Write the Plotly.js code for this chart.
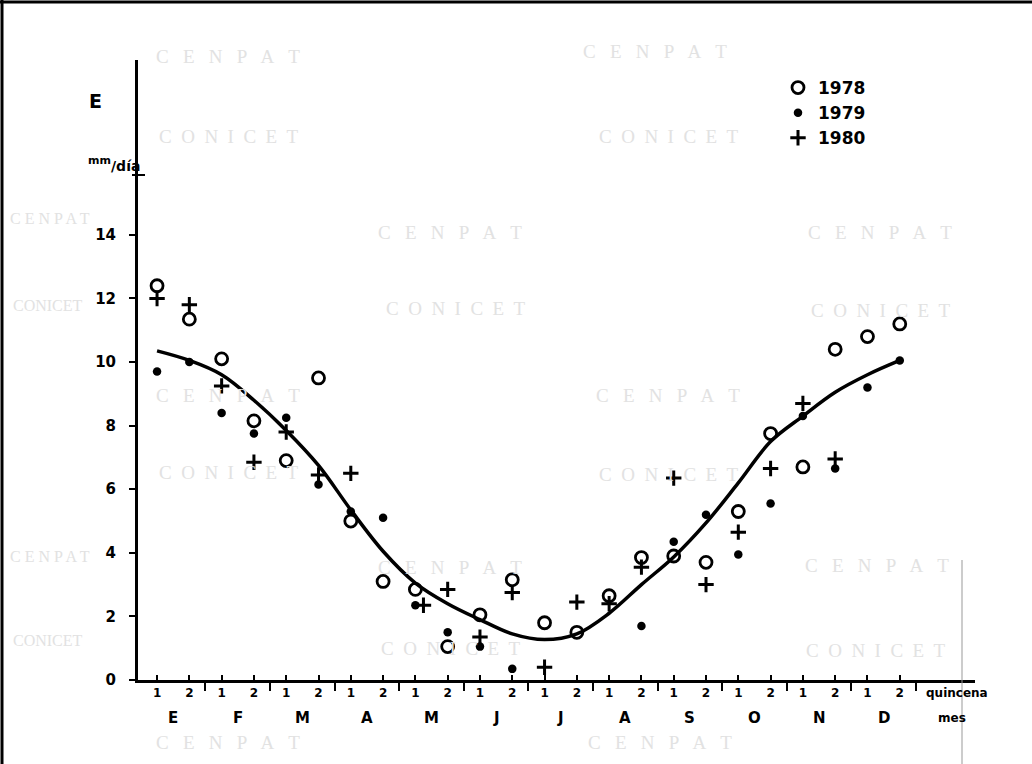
<!DOCTYPE html>
<html>
<head>
<meta charset="utf-8">
<script src="https://cdn.plot.ly/plotly-3.0.1.min.js"></script>
<style>html,body{margin:0;padding:0;background:#fff;}#chart{width:1032px;height:764px;}</style>
</head>
<body>
<div id="chart"></div>
<script>
// ---- data ----
const quincenas = [1,2,3,4,5,6,7,8,9,10,11,12,13,14,15,16,17,18,19,20,21,22,23,24];
const quincenaLabels = ["1","2","1","2","1","2","1","2","1","2","1","2","1","2","1","2","1","2","1","2","1","2","1","2"];
const meses = ["E","F","M","A","M","J","J","A","S","O","N","D"];
const mesCentros = [1.5,3.5,5.5,7.5,9.5,11.5,13.5,15.5,17.5,19.5,21.5,23.5];
const mesLimites = [2.5,4.5,6.5,8.5,10.5,12.5,14.5,16.5,18.5,20.5,22.5,24.5];
const yTicks = [0,2,4,6,8,10,12,14];

const e1978 = [12.4,11.35,10.1,8.15,6.9,9.5,5.0,3.1,2.85,1.05,2.05,3.15,1.8,1.5,2.65,3.85,3.9,3.7,5.3,7.75,6.7,10.4,10.8,11.2];
const e1979 = [9.7,10.0,8.4,7.75,8.25,6.15,5.3,5.1,2.35,1.5,1.05,0.35,null,null,null,1.7,4.35,5.2,3.95,5.55,8.3,6.65,9.2,10.05];
const x1980 = [1,2,3,4,5,6,7,8,9.25,10,11,12,13,14,15,16,17,18,19,20,21,22,23,24];
const e1980 = [12.0,11.8,9.25,6.85,7.8,6.45,6.5,null,2.35,2.85,1.35,2.75,0.4,2.45,2.4,3.55,6.35,3.0,4.65,6.65,8.7,6.95,null,null];
const curva = [10.35,10.05,9.6,8.8,7.85,6.75,5.35,4.05,3.05,2.4,1.9,1.45,1.27,1.45,2.1,3.0,3.87,4.94,6.2,7.5,8.3,9.05,9.6,10.05];

const BOLD = {family:"DejaVu Sans, sans-serif", color:"#000", weight:"bold"};
const f = (size, extra) => Object.assign({size:size}, BOLD, extra||{});

const traces = [
  {x:quincenas, y:curva, type:"scatter", mode:"lines", line:{color:"#000", width:3.5, shape:"spline", smoothing:1}, showlegend:false, hoverinfo:"skip"},
  {x:quincenas, y:e1978, type:"scatter", mode:"markers", name:"1978",
   marker:{symbol:"circle-open", size:12, color:"#000", line:{width:2.8, color:"#000"}}},
  {x:quincenas, y:e1979, type:"scatter", mode:"markers", name:"1979",
   marker:{symbol:"circle", size:8.5, color:"#000"}},
  {x:x1980, y:e1980, type:"scatter", mode:"markers", name:"1980",
   marker:{symbol:"cross-thin", size:11, color:"#000", line:{width:3, color:"#000"}}}
];

// helpers: pixel -> paper for layout decorations only
const L=138, R=975, T=60, B=680;
const px = v => (v-L)/(R-L);
const py = v => (B-v)/(B-T);
const ann = (x, y, text, font) => ({x:px(x), xref:"paper", y:py(y), yref:"paper", xanchor:"center", yanchor:"middle", text:text, showarrow:false, font:font});

const annotations = [];
meses.forEach((m,i)=>annotations.push({x:mesCentros[i], xref:"x", y:0, yref:"paper", xanchor:"center", yanchor:"middle", yshift:-38, text:m, showarrow:false, font:f(15)}));
annotations.push(ann(957, 693, "quincena", f(12)));
annotations.push(ann(952, 718, "mes", f(12)));
annotations.push(ann(95, 101, "E", f(19)));
annotations.push(ann(99, 160, "mm", f(11)));
annotations.push(ann(125, 166, "/día", f(14)));

// faint watermark text
const NB = "\u00a0";
const cenpat = ["C","E","N","P","A","T"].join(NB+NB+" ");
const conicet = ["C","O","N","I","C","E","T"].join(NB+" ");
const cenpatS = ["C","E","N","P","A","T"].join(" ");
const conicetS = ["C","O","N","I","C","E","T"].join("");
const wmCenpat = [[228,57],[655,52],[450,232],[880,232],[228,395],[668,395],[450,567],[877,565],[228,742],[660,742]];
const wmConicet = [[228,137],[668,137],[455,308],[880,310],[228,472],[668,474],[450,648],[875,650]];
const wmLeftCenpat = [[50,218],[50,556]];
const wmLeftConicet = [[48,305],[48,640]];
const wmFont = {family:"Liberation Serif, serif", size:19, color:"#e2e2e2"};
const wmFontS = {family:"Liberation Serif, serif", size:16, color:"#e2e2e2"};
wmCenpat.forEach(p=>annotations.push(ann(p[0], p[1], cenpat, wmFont)));
wmConicet.forEach(p=>annotations.push(ann(p[0], p[1], conicet, wmFont)));
wmLeftCenpat.forEach(p=>annotations.push(ann(p[0], p[1], cenpatS, wmFontS)));
wmLeftConicet.forEach(p=>annotations.push(ann(p[0], p[1], conicetS, wmFontS)));

const shapes = [
  // y-axis break mark
  {type:"line", xref:"paper", yref:"paper", x0:px(132), x1:px(145), y0:py(175), y1:py(175), line:{color:"#000", width:2}},
  // scan border (top & left) and faint crease on the right
  {type:"line", xref:"paper", yref:"paper", x0:px(0), x1:px(1032), y0:py(2), y1:py(2), line:{color:"#000", width:3}},
  {type:"line", xref:"paper", yref:"paper", x0:px(2), x1:px(2), y0:py(0), y1:py(764), line:{color:"#000", width:3}},
  {type:"line", xref:"paper", yref:"paper", x0:px(962), x1:px(962), y0:py(560), y1:py(764), line:{color:"#999", width:1}}
];

const layout = {
  width:1032, height:764,
  margin:{l:L, r:1032-R, t:T, b:764-B, pad:0},
  paper_bgcolor:"#fff", plot_bgcolor:"#fff",
  showlegend:true,
  legend:{x:px(778), y:py(70), xanchor:"left", yanchor:"top", bgcolor:"rgba(0,0,0,0)", font:f(17), itemwidth:30, tracegroupgap:0},
  xaxis:{range:[0.41,26.33], tickmode:"array", tickvals:quincenas, ticktext:quincenaLabels,
    ticks:"inside", ticklen:5, tickwidth:2, tickcolor:"#000",
    minor:{tickmode:"array", tickvals:mesLimites, ticks:"outside", ticklen:8, tickwidth:2, tickcolor:"#000", showgrid:false},
    showline:true, linewidth:3, linecolor:"#000", showgrid:false, zeroline:false,
    tickfont:f(12), fixedrange:true},
  yaxis:{range:[0,19.5], tickmode:"array", tickvals:yTicks,
    ticks:"outside", ticklen:6, tickwidth:2, tickcolor:"#000", ticklabelstandoff:10,
    showline:true, linewidth:3, linecolor:"#000", showgrid:false, zeroline:false,
    tickfont:f(15), fixedrange:true},
  annotations:annotations,
  shapes:shapes
};

Plotly.newPlot("chart", traces, layout, {displayModeBar:false, staticPlot:true});
</script>
</body>
</html>
